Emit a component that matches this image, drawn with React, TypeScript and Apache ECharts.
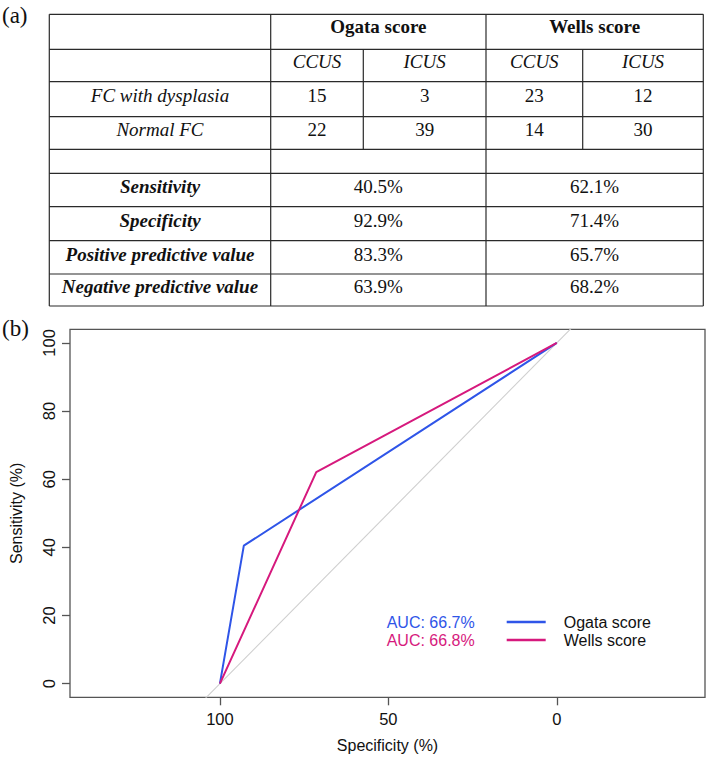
import React, { useEffect, useRef } from "react";
import * as echarts from "echarts";

// ---------- Table (a) data ----------
const scoreGroups = ["Ogata score", "Wells score"];
const subColumns = ["CCUS", "ICUS"];
const countRowLabels = ["FC with dysplasia", "Normal FC"];
const ogataCounts = [
  [15, 3],
  [22, 39],
];
const wellsCounts = [
  [23, 12],
  [14, 30],
];
const metricLabels = [
  "Sensitivity",
  "Specificity",
  "Positive predictive value",
  "Negative predictive value",
];
const ogataMetrics = ["40.5%", "92.9%", "83.3%", "63.9%"];
const wellsMetrics = ["62.1%", "71.4%", "65.7%", "68.2%"];

// ---------- ROC (b) data ----------
const ogataSpecificity = [100, 92.9, 0];
const ogataSensitivity = [0, 40.5, 100];
const wellsSpecificity = [100, 71.4, 0];
const wellsSensitivity = [0, 62.1, 100];
const chanceSpecificity = [110, -10];
const chanceSensitivity = [-10, 110];
const aucLabels = ["AUC: 66.7%", "AUC: 66.8%"];
const seriesNames = ["Ogata score", "Wells score"];
const xTickValues = [0, 50, 100];
const yTickValues = [0, 20, 40, 60, 80, 100];

const BLUE = "#2f55e8";
const MAGENTA = "#d6197d";
const SERIF = '"Liberation Serif", "Times New Roman", serif';
const SANS = '"Liberation Sans", Arial, sans-serif';

// table layout
const colX = [49.3, 270.7, 363.3, 486, 582.7, 703.3];
const rowY = [14.3, 49.3, 81.7, 116.7, 149.3, 173.3, 206.7, 240.7, 274, 306];
const baselines = [33, 68.3, 101.7, 136, 0, 193.3, 226.7, 261, 293.3];
const TFS = 19;

function zip(a: number[], b: number[]) {
  return a.map((v, i) => [v, b[i]]);
}

function buildTable(): any[] {
  const els: any[] = [];
  const stroke = "#2a2a2a";
  const lw = 1.2;
  rowY.forEach((y) => {
    els.push({
      type: "line",
      silent: true,
      shape: { x1: colX[0], y1: y, x2: colX[5], y2: y },
      style: { stroke, lineWidth: lw },
    });
  });
  [0, 1, 3, 5].forEach((ci) => {
    els.push({
      type: "line",
      silent: true,
      shape: { x1: colX[ci], y1: rowY[0], x2: colX[ci], y2: rowY[9] },
      style: { stroke, lineWidth: lw },
    });
  });
  [2, 4].forEach((ci) => {
    els.push({
      type: "line",
      silent: true,
      shape: { x1: colX[ci], y1: rowY[1], x2: colX[ci], y2: rowY[4] },
      style: { stroke, lineWidth: lw },
    });
  });
  const txt = (
    text: string,
    cx: number,
    row: number,
    fontStyle = "normal",
    fontWeight: any = "normal"
  ) => ({
    type: "text",
    silent: true,
    style: {
      text,
      x: cx,
      y: baselines[row] - 0.337 * TFS,
      align: "center",
      verticalAlign: "middle",
      fontFamily: SERIF,
      fontSize: TFS,
      fontStyle,
      fontWeight,
      fill: "#111",
    },
  });
  const mid = (a: number, b: number) => (a + b) / 2;
  // header
  els.push(txt(scoreGroups[0], mid(colX[1], colX[3]), 0, "normal", "bold"));
  els.push(txt(scoreGroups[1], mid(colX[3], colX[5]), 0, "normal", "bold"));
  // sub columns
  const subCenters = [
    mid(colX[1], colX[2]),
    mid(colX[2], colX[3]),
    mid(colX[3], colX[4]),
    mid(colX[4], colX[5]),
  ];
  [0, 1, 0, 1].forEach((si, k) => {
    els.push(txt(subColumns[si], subCenters[k], 1, "italic"));
  });
  // counts
  countRowLabels.forEach((lab, r) => {
    els.push(txt(lab, mid(colX[0], colX[1]), 2 + r, "italic"));
    const vals = [...ogataCounts[r], ...wellsCounts[r]];
    vals.forEach((v, k) => els.push(txt(String(v), subCenters[k], 2 + r)));
  });
  // metrics
  metricLabels.forEach((lab, r) => {
    els.push(txt(lab, mid(colX[0], colX[1]), 5 + r, "italic", "bold"));
    els.push(txt(ogataMetrics[r], mid(colX[1], colX[3]), 5 + r));
    els.push(txt(wellsMetrics[r], mid(colX[3], colX[5]), 5 + r));
  });
  // panel labels
  els.push({
    type: "text",
    silent: true,
    style: {
      text: "(a)",
      x: 2,
      y: 15,
      align: "left",
      verticalAlign: "middle",
      fontFamily: SERIF,
      fontSize: 23,
      fill: "#111",
    },
  });
  els.push({
    type: "text",
    silent: true,
    style: {
      text: "(b)",
      x: 2,
      y: 328,
      align: "left",
      verticalAlign: "middle",
      fontFamily: SERIF,
      fontSize: 23,
      fill: "#111",
    },
  });
  // AUC labels
  const aucColors = [BLUE, MAGENTA];
  const aucY = [622.5, 640.7];
  aucLabels.forEach((t, i) => {
    els.push({
      type: "text",
      silent: true,
      style: {
        text: t,
        x: 386.7,
        y: aucY[i],
        align: "left",
        verticalAlign: "middle",
        fontFamily: SANS,
        fontSize: 16,
        fill: aucColors[i],
      },
    });
  });
  return els;
}

export default function App() {
  const ref = useRef<HTMLDivElement>(null);
  useEffect(() => {
    if (!ref.current) return;
    const chart = echarts.init(ref.current, null, { renderer: "svg" });
    const option: any = {
      animation: false,
      backgroundColor: "#ffffff",
      textStyle: { fontFamily: SANS },
      grid: {
        left: 66,
        right: 4,
        top: 329.3,
        bottom: 60.7,
        show: true,
        borderColor: "#555",
        borderWidth: 1.3,
        backgroundColor: "transparent",
      },
      legend: {
        data: seriesNames.map((n) => ({ name: n, icon: "rect" })),
        orient: "vertical",
        left: 506.7,
        top: 614,
        itemWidth: 39,
        itemHeight: 2.5,
        itemGap: 2,
        padding: 0,
        selectedMode: false,
        textStyle: {
          fontFamily: SANS,
          fontSize: 16,
          color: "#111",
          padding: [0, 0, 0, 13],
        },
      },
      xAxis: {
        type: "value",
        inverse: true,
        min: -44,
        max: 144.5,
        name: "Specificity (%)",
        nameLocation: "middle",
        nameGap: 40,
        nameTextStyle: { fontFamily: SANS, fontSize: 16, color: "#111" },
        axisLine: { show: false, onZero: false },
        splitLine: { show: false },
        axisTick: {
          show: true,
          inside: false,
          length: 8,
          customValues: xTickValues,
          lineStyle: { color: "#555", width: 1.3 },
        },
        axisLabel: {
          customValues: xTickValues,
          margin: 13,
          fontFamily: SANS,
          fontSize: 16.5,
          color: "#111",
        },
      },
      yAxis: {
        type: "value",
        min: -4,
        max: 104,
        name: "Sensitivity (%)",
        nameLocation: "middle",
        nameGap: 46,
        nameRotate: 90,
        nameTextStyle: { fontFamily: SANS, fontSize: 16, color: "#111" },
        axisLine: { show: false, onZero: false },
        splitLine: { show: false },
        axisTick: {
          show: true,
          inside: false,
          length: 8,
          customValues: yTickValues,
          lineStyle: { color: "#555", width: 1.3 },
        },
        axisLabel: {
          customValues: yTickValues,
          rotate: 90,
          margin: 13,
          fontFamily: SANS,
          fontSize: 16.5,
          color: "#111",
        },
      },
      series: [
        {
          name: "chance",
          type: "line",
          data: zip(chanceSpecificity, chanceSensitivity),
          symbol: "none",
          silent: true,
          clip: true,
          lineStyle: { color: "#cfcfcf", width: 1.1 },
          z: 1,
        },
        {
          name: seriesNames[0],
          type: "line",
          data: zip(ogataSpecificity, ogataSensitivity),
          symbol: "none",
          clip: true,
          lineStyle: { color: BLUE, width: 2 },
          itemStyle: { color: BLUE },
          z: 2,
        },
        {
          name: seriesNames[1],
          type: "line",
          data: zip(wellsSpecificity, wellsSensitivity),
          symbol: "none",
          clip: true,
          lineStyle: { color: MAGENTA, width: 2 },
          itemStyle: { color: MAGENTA },
          z: 3,
        },
      ],
      graphic: buildTable(),
    };
    chart.setOption(option);
    return () => chart.dispose();
  }, []);
  return (
    <div
      ref={ref}
      style={{
        position: "absolute",
        left: 0,
        top: 0,
        width: 709,
        height: 758,
        background: "#fff",
      }}
    />
  );
}
